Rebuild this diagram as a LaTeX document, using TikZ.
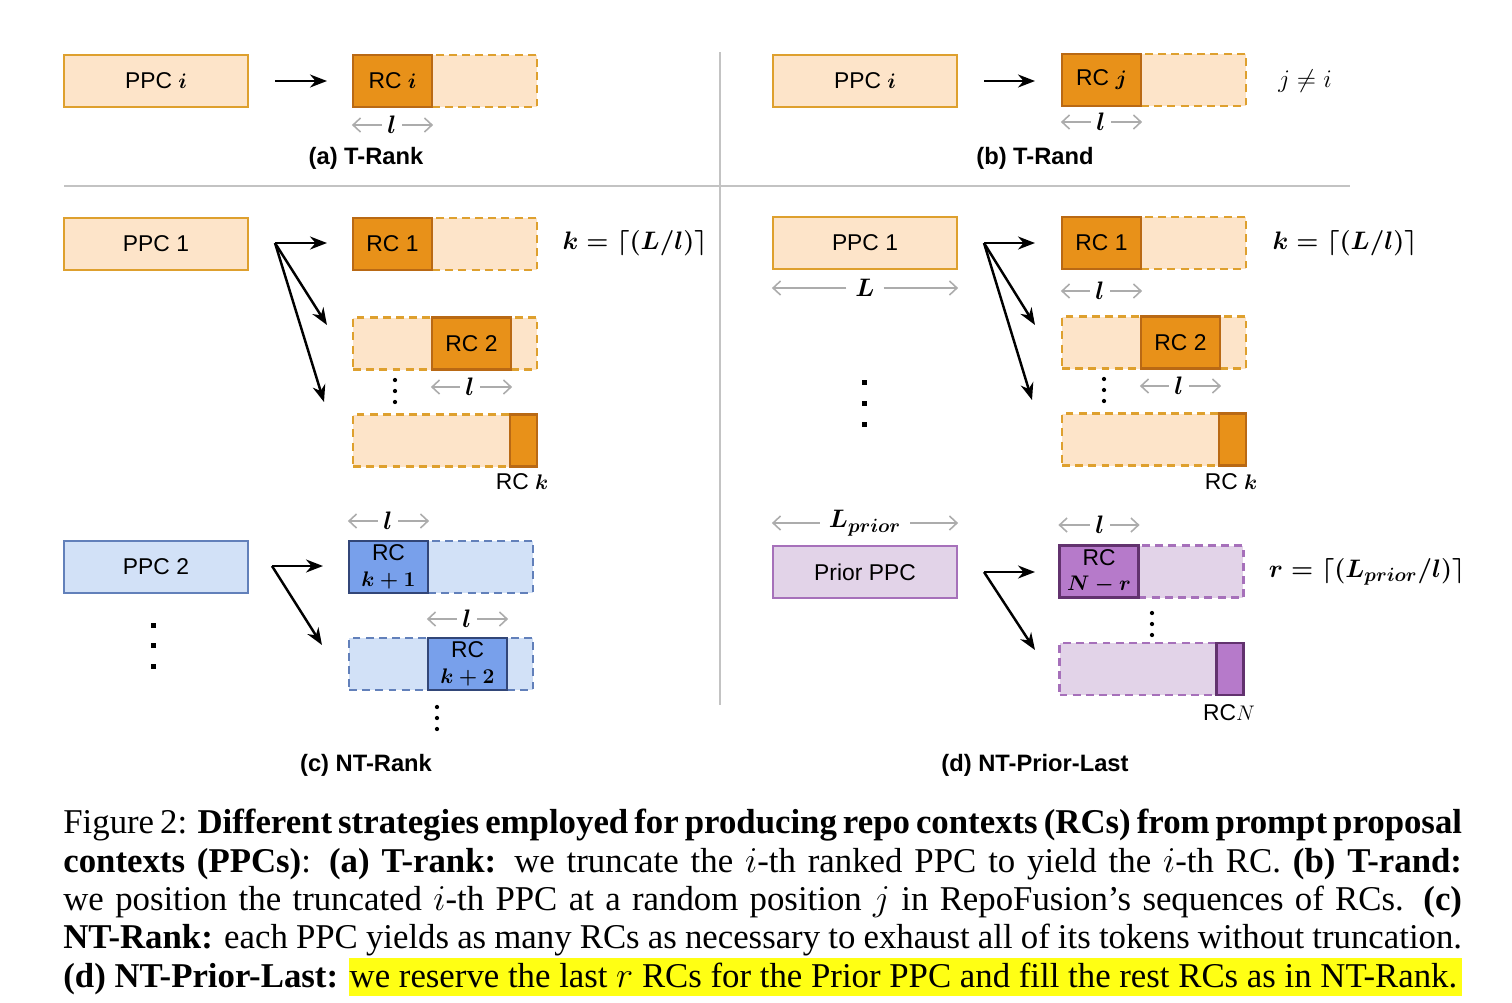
\documentclass[tikz,border=0pt]{standalone}
\usepackage[no-math]{fontspec}
\setmainfont{Liberation Serif}
\setsansfont{Liberation Sans}
\usepackage{amsmath}
\usepackage{amssymb}
\usepackage{xcolor}
\usetikzlibrary{arrows.meta}
\definecolor{orfill}{RGB}{253, 228, 201}
\definecolor{orline}{RGB}{222, 160, 46}
\definecolor{ordark}{RGB}{232, 145, 25}
\definecolor{oredge}{RGB}{185, 105, 20}
\definecolor{blfill}{RGB}{210, 225, 247}
\definecolor{blline}{RGB}{98, 128, 186}
\definecolor{bldark}{RGB}{120, 160, 235}
\definecolor{bledge}{RGB}{50, 70, 120}
\definecolor{pufill}{RGB}{226, 211, 232}
\definecolor{puline}{RGB}{166, 112, 186}
\definecolor{pudark}{RGB}{182, 122, 202}
\definecolor{puedge}{RGB}{98, 50, 110}
\definecolor{gry}{RGB}{172, 172, 172}
\definecolor{sepl}{RGB}{195, 195, 195}
\definecolor{hilite}{RGB}{255, 255, 20}

\begin{document}
\begin{tikzpicture}[x=0.02cm, y=-0.02cm,
    lbl/.style={font=\sffamily\fontsize{13}{14.5}\selectfont, inner sep=0pt, align=center},
    ppc/.style={lbl, draw=#1line, fill=#1fill, line width=1.3pt, minimum width=3.68cm, minimum height=1.04cm},
    slot/.style={draw=#1line, fill=#1fill, line width=1.3pt, dash pattern=on 4.5pt off 3pt, minimum width=3.68cm, minimum height=1.04cm, inner sep=0pt},
    rc/.style={lbl, draw=#1edge, fill=#1dark, line width=1.3pt, minimum width=1.58cm, minimum height=1.04cm},
    tail/.style={draw=#1edge, fill=#1dark, line width=1.3pt, minimum width=0.54cm, minimum height=1.04cm, inner sep=0pt},
    arr/.style={-{Stealth[length=0.34cm, width=0.26cm]}, line width=1.4pt},
    garr/.style={-{Straight Barb[length=1.5mm, width=2.8mm]}, gry, line width=0.9pt},
    len/.style={font=\fontsize{15}{16}\selectfont, inner sep=3pt},
    eqn/.style={font=\fontsize{15}{17}\selectfont, inner sep=0pt},
    sub/.style={font=\sffamily\bfseries\fontsize{13.5}{16}\selectfont, inner sep=0pt},
    sep/.style={sepl, line width=1pt},
    bigdot/.style={fill=black, minimum size=0.1cm, inner sep=0pt},
    smalldot/.style={circle, fill=black, minimum size=0.085cm, inner sep=0pt}]
  \useasboundingbox (0,0) rectangle (1512,1002);

  \draw[sep] (720,52) -- (720,705);
  \draw[sep] (64,186) -- (1350,186);

  \node[ppc=or] (ppca) at (156,81) {PPC $\boldsymbol{i}$};
  \node[slot=or] (slota) at (445,81) {};
  \node[rc=or] (rca) at (392.5,81) {RC $\boldsymbol{i}$};
  \coordinate (forka) at (275,81);
  \coordinate (enda) at (327,81);
  \draw[arr] (forka) -- (enda);
  \node[len] (la) at (392,125) {$\boldsymbol{l}$};
  \draw[garr] (la.west) -- (la.west -| rca.west);
  \draw[garr] (la.east) -- (la.east -| rca.east);
  \node[sub] (capa) at (366,158) {(a) T-Rank};

  \node[ppc=or] (ppcb) at (865,81) {PPC $\boldsymbol{i}$};
  \node[slot=or] (slotb) at (1154,80) {};
  \node[rc=or] (rcb) at (1101.5,80) {RC $\boldsymbol{j}$};
  \coordinate (forkb) at (984,81);
  \coordinate (endb) at (1035,81);
  \draw[arr] (forkb) -- (endb);
  \node[len] (lb) at (1101,122) {$\boldsymbol{l}$};
  \draw[garr] (lb.west) -- (lb.west -| rcb.west);
  \draw[garr] (lb.east) -- (lb.east -| rcb.east);
  \node[eqn] (neq) at (1305,81) {$j\neq i$};
  \node[sub] (capb) at (1035,158) {(b) T-Rand};

  \node[ppc=or] (ppcc1) at (156,244) {PPC 1};
  \node[slot=or] (slotc1) at (445,244) {};
  \node[rc=or] (rcc1) at (392.5,244) {RC 1};
  \node[eqn] (kc) at (635,243) {$\boldsymbol{k=\lceil(L/l)\rceil}$};
  \node[slot=or] (slotc2) at (445,343.5) {};
  \node[rc=or] (rcc2) at (471.5,343.5) {RC 2};
  \node[len] (lc2) at (470,387) {$\boldsymbol{l}$};
  \draw[garr] (lc2.west) -- (lc2.west -| rcc2.west);
  \draw[garr] (lc2.east) -- (lc2.east -| rcc2.east);
  \foreach \y in {380,391,402}
    \node[smalldot] at (395,\y) {};
  \node[slot=or] (slotck) at (445,440.5) {};
  \node[tail=or] (rcck) at (523.5,440.5) {};
  \node[lbl] (rcckl) at (522,482) {RC $\boldsymbol{k}$};
  \coordinate (forkc1) at (275,243);
  \coordinate (endc1) at (327,243);
  \coordinate (endc2) at (327,325);
  \coordinate (endc3) at (324,402);
  \draw[arr] (forkc1) -- (endc1);
  \draw[arr] (forkc1) -- (endc2);
  \draw[arr] (forkc1) -- (endc3);

  \node[ppc=bl] (ppcc2) at (156,567) {PPC 2};
  \foreach \y in {625,645,666}
    \node[bigdot] at (153,\y) {};
  \node[slot=bl] (slotc3) at (441,567) {};
  \node[rc=bl] (rcc3) at (388.5,567) {RC\\$\boldsymbol{k+1}$};
  \node[len] (lc3) at (388,521) {$\boldsymbol{l}$};
  \draw[garr] (lc3.west) -- (lc3.west -| rcc3.west);
  \draw[garr] (lc3.east) -- (lc3.east -| rcc3.east);
  \node[slot=bl] (slotc4) at (441,664) {};
  \node[rc=bl] (rcc4) at (467.5,664) {RC\\$\boldsymbol{k+2}$};
  \node[len] (lc4) at (467,619) {$\boldsymbol{l}$};
  \draw[garr] (lc4.west) -- (lc4.west -| rcc4.west);
  \draw[garr] (lc4.east) -- (lc4.east -| rcc4.east);
  \foreach \y in {707,718,729}
    \node[smalldot] at (437,\y) {};
  \coordinate (forkc2) at (272,566);
  \coordinate (endc4) at (323,566);
  \coordinate (endc5) at (322,645);
  \draw[arr] (forkc2) -- (endc4);
  \draw[arr] (forkc2) -- (endc5);
  \node[sub] (capc) at (366,765) {(c) NT-Rank};

  \node[ppc=or] (ppcd1) at (865,243) {PPC 1};
  \node[len, inner sep=5pt] (Ld) at (865,288) {$\boldsymbol{L}$};
  \draw[garr] (Ld.west) -- (Ld.west -| ppcd1.west);
  \draw[garr] (Ld.east) -- (Ld.east -| ppcd1.east);
  \foreach \y in {382,403,424}
    \node[bigdot] at (864,\y) {};
  \node[slot=or] (slotd1) at (1154,243) {};
  \node[rc=or] (rcd1) at (1101.5,243) {RC 1};
  \node[eqn] (kd) at (1345,243) {$\boldsymbol{k=\lceil(L/l)\rceil}$};
  \node[len] (ld1) at (1100,291) {$\boldsymbol{l}$};
  \draw[garr] (ld1.west) -- (ld1.west -| rcd1.west);
  \draw[garr] (ld1.east) -- (ld1.east -| rcd1.east);
  \node[slot=or] (slotd2) at (1154,342.5) {};
  \node[rc=or] (rcd2) at (1180.5,342.5) {RC 2};
  \node[len] (ld2) at (1179,386) {$\boldsymbol{l}$};
  \draw[garr] (ld2.west) -- (ld2.west -| rcd2.west);
  \draw[garr] (ld2.east) -- (ld2.east -| rcd2.east);
  \foreach \y in {379,390,401}
    \node[smalldot] at (1104,\y) {};
  \node[slot=or] (slotdk) at (1154,439.5) {};
  \node[tail=or] (rcdk) at (1232.5,439.5) {};
  \node[lbl] (rcdkl) at (1231,482) {RC $\boldsymbol{k}$};
  \coordinate (forkd1) at (984,243);
  \coordinate (endd1) at (1035,243);
  \coordinate (endd2) at (1035,325);
  \coordinate (endd3) at (1032,400);
  \draw[arr] (forkd1) -- (endd1);
  \draw[arr] (forkd1) -- (endd2);
  \draw[arr] (forkd1) -- (endd3);

  \node[ppc=pu] (ppcd2) at (865,572) {Prior PPC};
  \node[len, inner sep=5pt] (Lp) at (865,523) {$\boldsymbol{L}_{\boldsymbol{prior}}$};
  \draw[garr] (Lp.west) -- (Lp.west -| ppcd2.west);
  \draw[garr] (Lp.east) -- (Lp.east -| ppcd2.east);
  \node[slot=pu] (slotd3) at (1151.5,571.5) {};
  \node[rc=pu] (rcd3) at (1099,571.5) {RC\\$\boldsymbol{N-r}$};
  \node[len] (ld3) at (1100,525) {$\boldsymbol{l}$};
  \draw[garr] (ld3.west) -- (ld3.west -| rcd3.west);
  \draw[garr] (ld3.east) -- (ld3.east -| rcd3.east);
  \node[eqn] (rd) at (1367,572) {$\boldsymbol{r=\lceil(L_{prior}/l)\rceil}$};
  \foreach \y in {613,624,635}
    \node[smalldot] at (1152,\y) {};
  \node[slot=pu] (slotdn) at (1151.5,669) {};
  \node[tail=pu] (rcdn) at (1230,669) {};
  \node[lbl] (rcdnl) at (1229,713) {RC$N$};
  \coordinate (forkd2) at (984,572);
  \coordinate (endd4) at (1035,572);
  \coordinate (endd5) at (1035,650);
  \draw[arr] (forkd2) -- (endd4);
  \draw[arr] (forkd2) -- (endd5);
  \node[sub] (capd) at (1035,765) {(d) NT-Prior-Last};

  \fill[hilite] (349,958) rectangle (1462,996);
  \node[anchor=north west, inner sep=0pt, text width=27.98cm, align=justify,
        font=\fontsize{19.8}{21.8}\selectfont] (caption) at (63,809) {\parfillskip=0pt
    Figure 2: \textbf{Different strategies employed for producing repo contexts (RCs) from prompt proposal}\linebreak
    \textbf{contexts (PPCs)}: \textbf{(a) T-rank:} we truncate the $i$-th ranked PPC to yield the $i$-th RC. \textbf{(b) T-rand:}\linebreak
    we position the truncated $i$-th PPC at a random position $j$ in RepoFusion's sequences of RCs. \textbf{(c)}\linebreak
    \textbf{NT-Rank:} each PPC yields as many RCs as necessary to exhaust all of its tokens without truncation.\linebreak
    \textbf{(d) NT-Prior-Last:} we reserve the last $r$ RCs for the Prior PPC and fill the rest RCs as in NT-Rank.};
\end{tikzpicture}
\end{document}
